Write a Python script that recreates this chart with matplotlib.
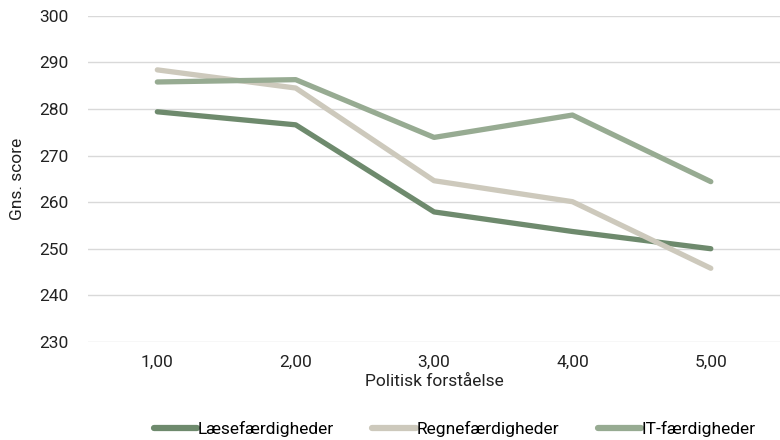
import numpy as np
import matplotlib
matplotlib.use('Agg')
import matplotlib.pyplot as plt

plt.rcParams['font.family'] = ['Roboto', 'DejaVu Sans']

categories = ["1,00", "2,00", "3,00", "4,00", "5,00"]
laese = [279.4, 276.6, 257.9, 253.7, 250.0]
regne = [288.4, 284.5, 264.6, 260.1, 245.8]
it = [285.8, 286.3, 273.9, 278.7, 264.4]
series_names = ["Læsefærdigheder", "Regnefærdigheder", "IT-færdigheder"]
series_colors = ["#6e8a6d", "#cdc9bc", "#97ab92"]
yticks = [230, 240, 250, 260, 270, 280, 290, 300]

fig = plt.figure(figsize=(7.8, 4.4), dpi=100)
ax = fig.add_axes([0.113, 0.223, 0.887, 0.741])

x = np.arange(1, len(categories) + 1)
for vals, name, col in zip([laese, regne, it], series_names, series_colors):
    ax.plot(x, vals, color=col, lw=3.8, solid_capstyle='round',
            solid_joinstyle='round', label=name)

ax.set_xlim(0.5, 5.5)
ax.set_ylim(230, 300)
ax.set_yticks(yticks)
ax.set_xticks(x)
ax.set_xticklabels(categories)
ax.grid(axis='y', color='#d9d9d9', lw=1)
ax.set_axisbelow(True)
for s in ax.spines.values():
    s.set_visible(False)
ax.tick_params(length=0, labelsize=12.5, colors='#222222')
ax.tick_params(axis='x', pad=9)
ax.tick_params(axis='y', pad=14)
ax.set_xlabel("Politisk forståelse", fontsize=12.5, color='#222222', labelpad=3)
ax.set_ylabel("Gns. score", fontsize=12.5, color='#222222', labelpad=10)

leg = ax.legend(loc='upper center', bbox_to_anchor=(0.53, -0.195), ncol=3, frameon=False,
                fontsize=12.5, handlelength=2.5, handletextpad=0.05, columnspacing=2.2)
for h in leg.get_lines():
    h.set_linewidth(4.5)

fig.savefig("out.png")
